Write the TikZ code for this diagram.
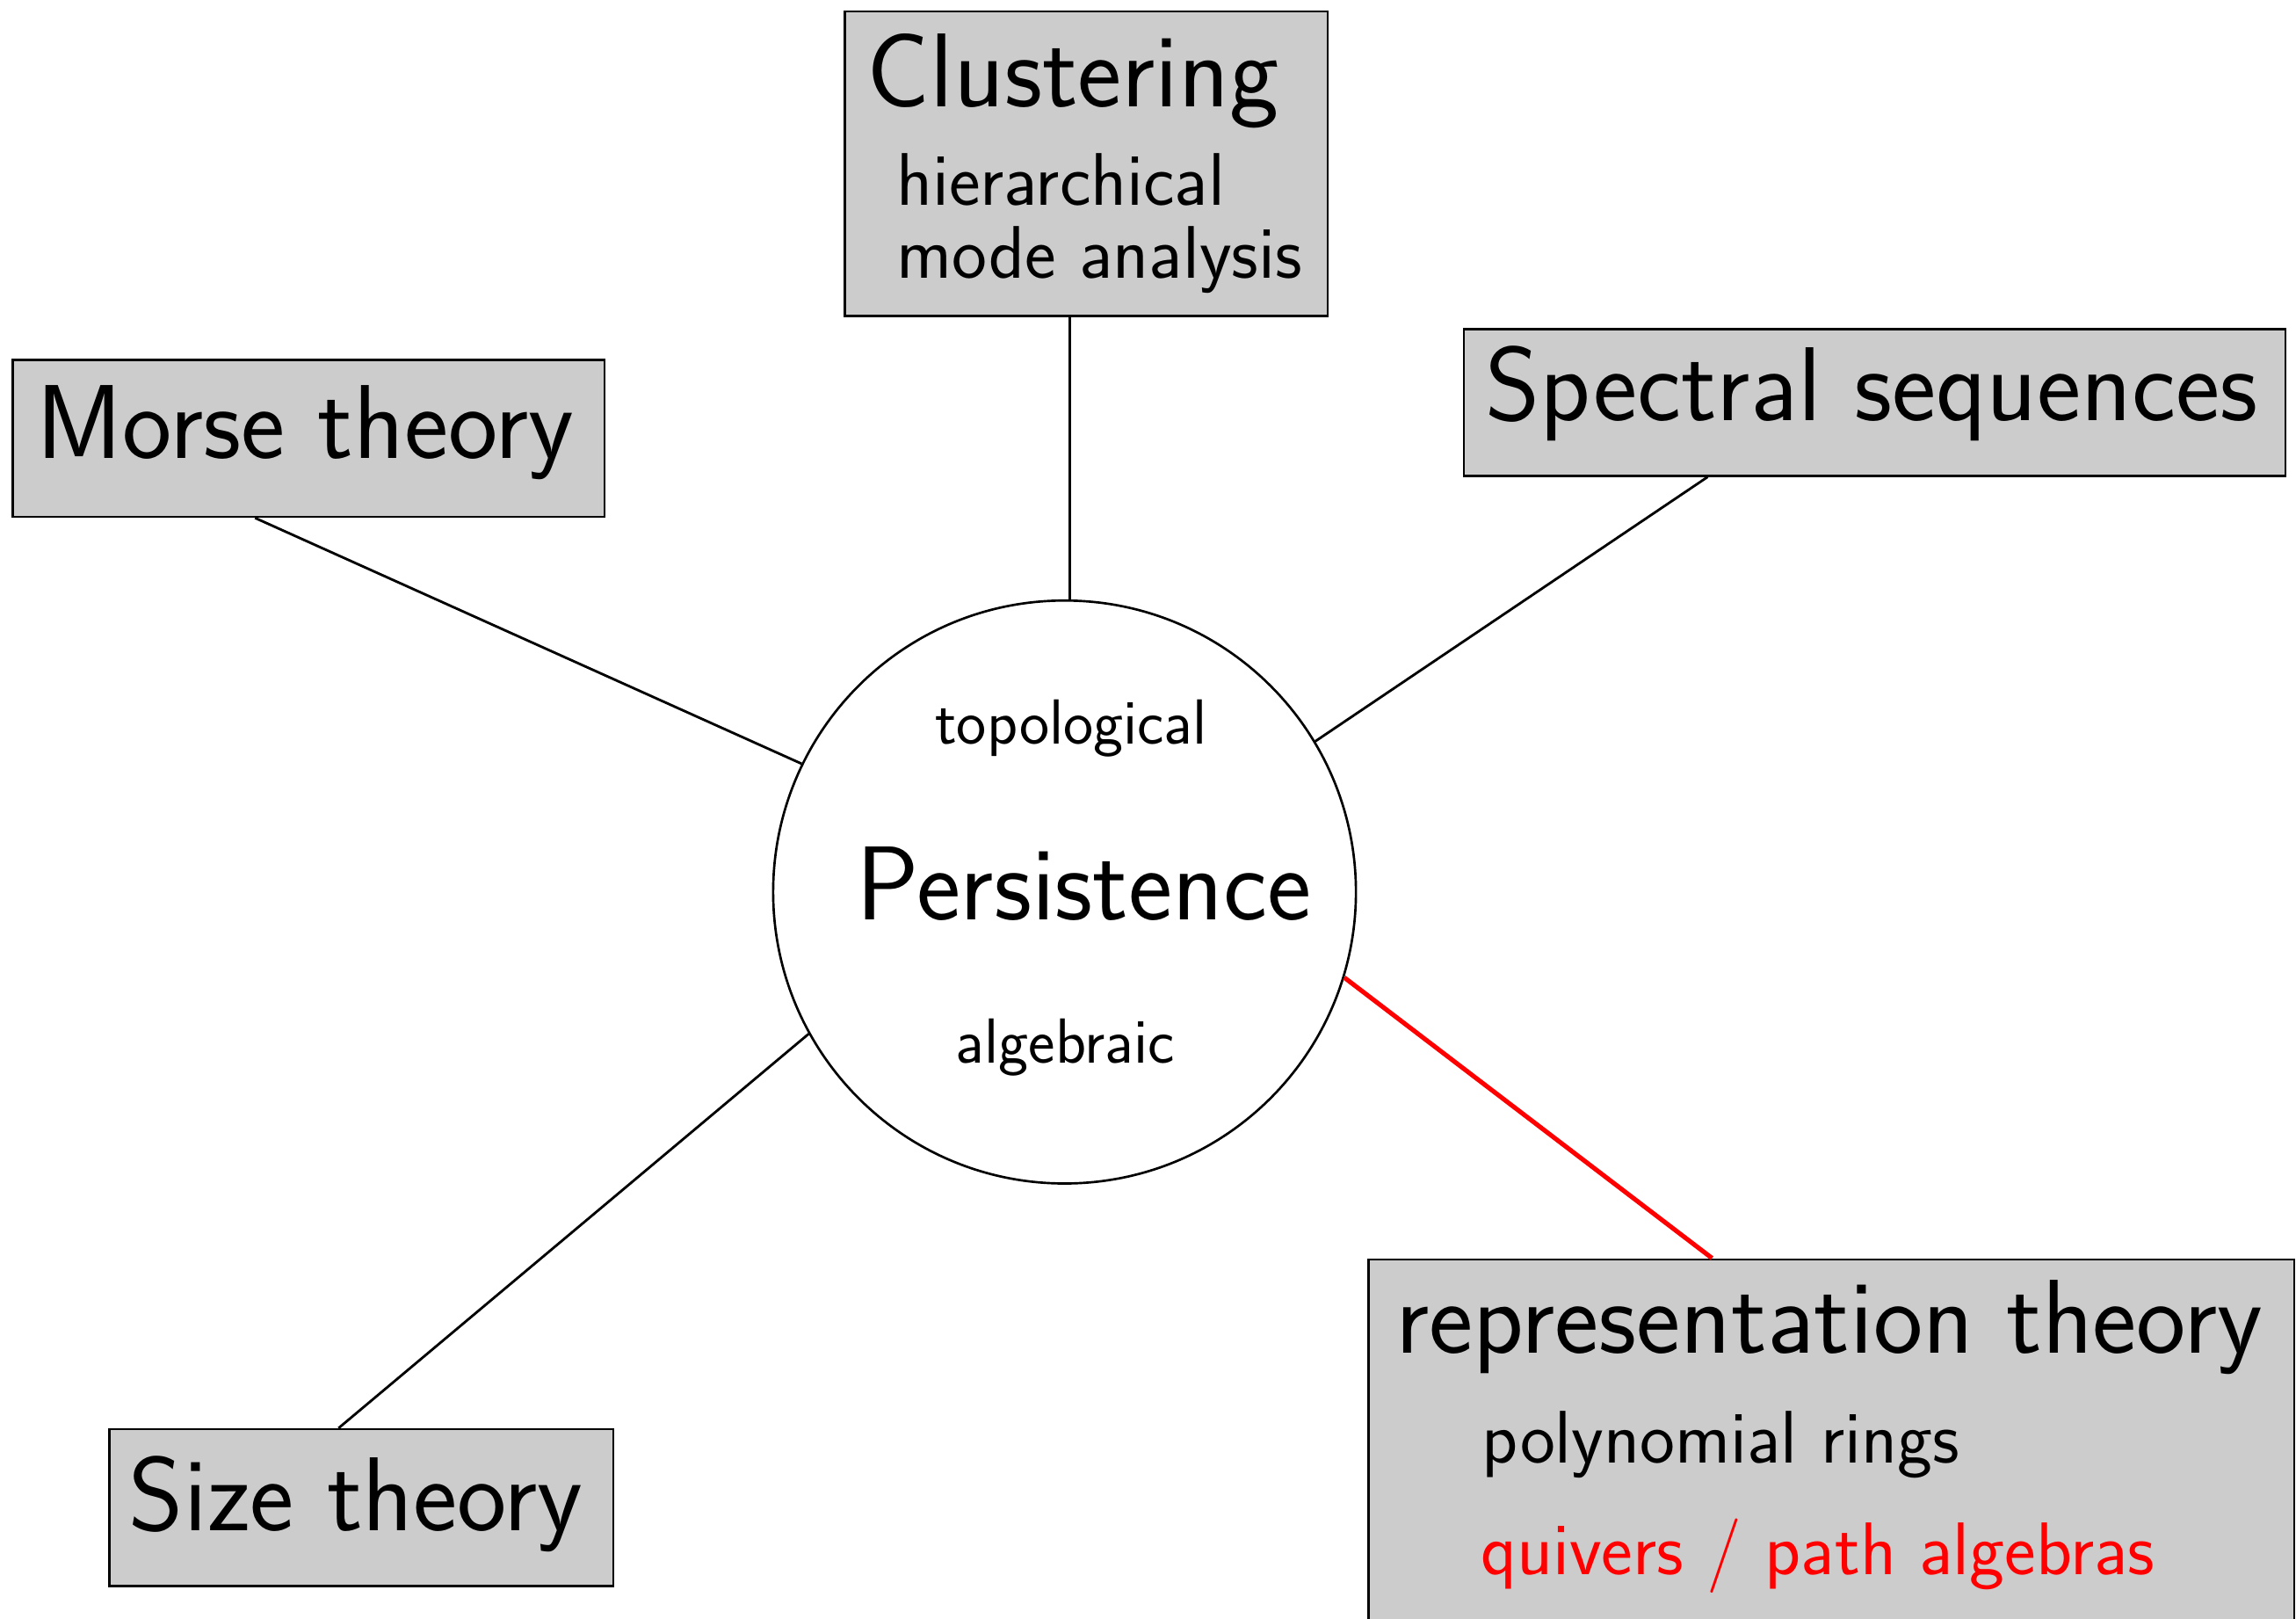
\documentclass[tikz,border=0pt]{standalone}
\begin{document}
\begin{tikzpicture}[x=1pt,y=-1pt,
  topic/.style={draw, fill=black!20, line width=1.6pt, rectangle, inner sep=0pt, anchor=north west},
  hub/.style={draw, fill=white, circle, line width=1.6pt, inner sep=0pt, minimum size=398pt},
  conn/.style={line width=1.7pt},
  hot/.style={line width=3.1pt, red},
  bigtext/.style={inner sep=0pt, font=\sffamily\fontsize{71.7}{86}\selectfont},
  midtext/.style={inner sep=0pt, font=\sffamily\fontsize{50.9}{61}\selectfont},
  smalltext/.style={inner sep=0pt, font=\sffamily\fontsize{43.5}{52}\selectfont}]
\useasboundingbox (0,0) rectangle (1568,1105);
\clip (0,0) rectangle (1568,1105);

% central circle
\node[hub] (pers) at (727,609) {};

% surrounding topic boxes
\node[topic, minimum width=330pt, minimum height=208pt] (clus) at (576,7) {};
\node[topic, minimum width=404pt, minimum height=107pt] (morse) at (8,245) {};
\node[topic, minimum width=561pt, minimum height=100pt] (spec) at (999,224) {};
\node[topic, minimum width=344pt, minimum height=107pt] (size) at (74,975) {};
\node[topic, minimum width=632pt, minimum height=270pt] (rep) at (934,859) {};

% connectors
\draw[conn] (pers.89.4) -- (pers.89.4 |- clus.south);
\draw[conn] (pers.154.2) -- (morse.236.06);
\draw[conn] (pers.31.7) -- (spec.204.15);
\draw[conn] (pers.209.2) -- (size.106.65);
\draw[hot] (pers.-17.25) -- (rep.121.3);

% texts
\node[bigtext, anchor=base] (tpers) at (740,628) {Persistence};
\node[smalltext, anchor=base] (ttop) at (731.5,508) {topological};
\node[smalltext, anchor=base] (talg) at (727.5,726) {algebraic};

\node[bigtext, anchor=base west] (tclus) at (592,73) {Clustering};
\node[midtext, anchor=base west] (thier) at (612,140) {hierarchical};
\node[midtext, anchor=base west] (tmode) at (612,190) {mode analysis};

\node[bigtext, anchor=base west] (tmorse) at (25,313) {Morse theory};
\node[bigtext, anchor=base west] (tspec) at (1014,287) {Spectral sequences};
\node[bigtext, anchor=base west] (tsize) at (88,1045) {Size theory};

\node[bigtext, anchor=base west] (trep) at (953,924) {representation theory};
\node[midtext, anchor=base west] (tpoly) at (1012,999) {polynomial rings};
\node[midtext, anchor=base west, text=red] (tquiv) at (1011,1075) {quivers / path algebras};
\end{tikzpicture}
\end{document}
